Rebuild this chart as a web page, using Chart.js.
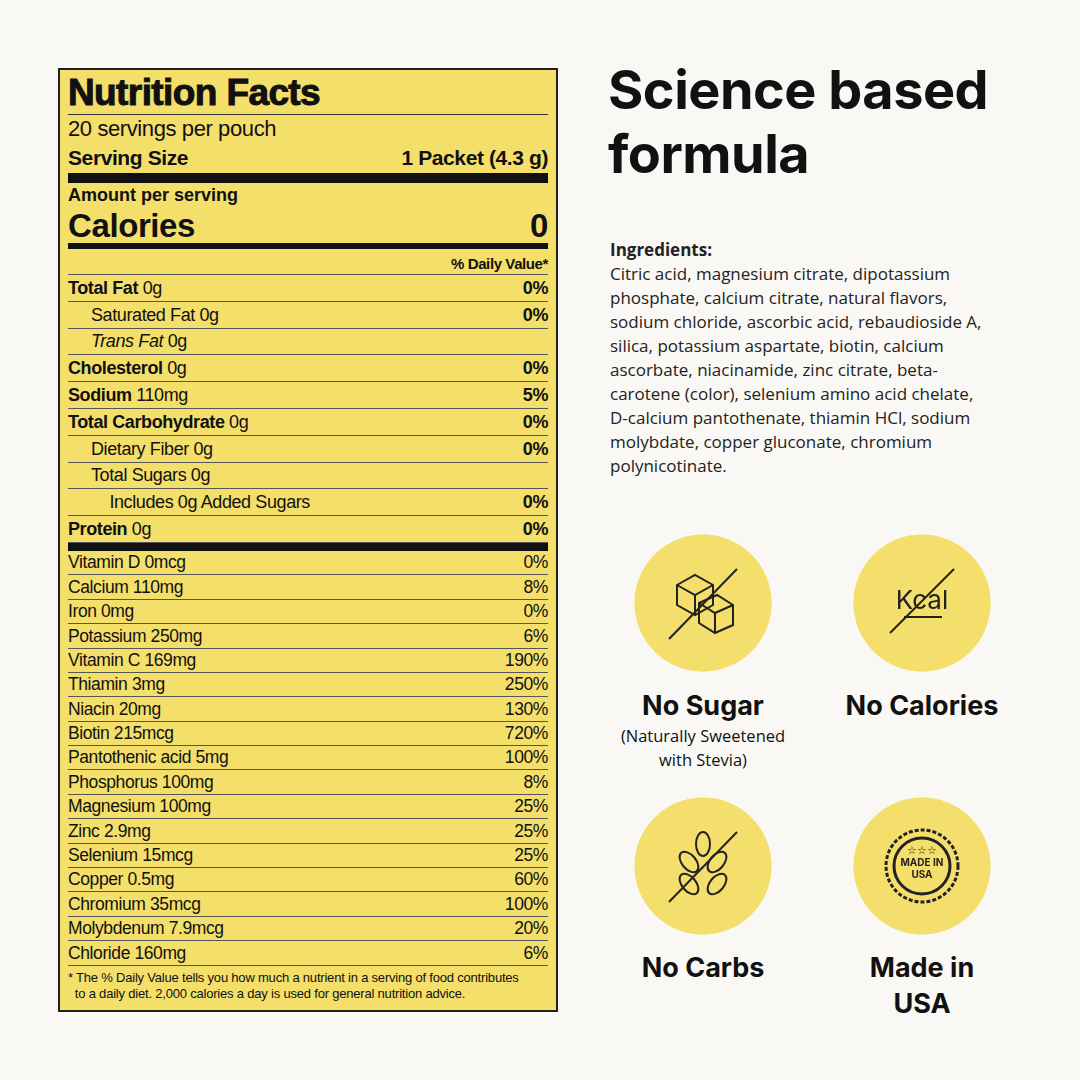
<!DOCTYPE html>
<html><head><meta charset="utf-8">
<script src="https://cdn.jsdelivr.net/npm/chart.js@4/dist/chart.umd.min.js"></script>
<style>
body{margin:0;width:1080px;height:1080px;background:#faf8f4;position:relative;overflow:hidden;font-family:'Liberation Sans Narrow','Liberation Sans',Arial,sans-serif;color:#111}
#label{position:absolute;left:58px;top:68px;width:500px;height:944px;background:#f4df6b;border:2px solid #222;box-sizing:border-box;padding:0 8px}
.r{display:flex;justify-content:space-between;align-items:flex-end;box-sizing:border-box;border-bottom:1px solid #555;letter-spacing:-0.4px}
.b{font-weight:bold}
.thick{background:#111}
#right{position:absolute;left:608px;top:58px;font-family:Inter,'Noto Sans',sans-serif}
h1{margin:0;font-size:54px;line-height:64px;font-weight:700;letter-spacing:-0.5px}
.ing{position:absolute;left:610px;top:238px;width:382px;font-family:'Open Sans','Noto Sans',sans-serif;font-size:17px;line-height:24px;color:#222}
.icon{position:absolute;width:140px;height:140px}
.cap{position:absolute;width:220px;text-align:center;font-family:Inter,'Noto Sans',sans-serif;font-weight:700;font-size:27px;color:#111}
.sub{font-weight:400;font-size:16.5px;line-height:24px;font-family:'Open Sans',sans-serif}
.sym{position:absolute;width:140px;height:140px;pointer-events:none}
</style></head><body>
<div id="label"></div>
<div id="right"><h1>Science based<br>formula</h1></div>
<div class="ing"><b>Ingredients:</b><br>Citric acid, magnesium citrate, dipotassium phosphate, calcium citrate, natural flavors, sodium chloride, ascorbic acid, rebaudioside A, silica, potassium aspartate, biotin, calcium ascorbate, niacinamide, zinc citrate, beta-carotene (color), selenium amino acid chelate, D-calcium pantothenate, thiamin HCl, sodium molybdate, copper gluconate, chromium polynicotinate.</div>
<script>
const mainNames=["<b>Total Fat</b> 0g","&nbsp;&nbsp;&nbsp;&nbsp;&nbsp;Saturated Fat 0g","&nbsp;&nbsp;&nbsp;&nbsp;&nbsp;<i>Trans Fat</i> 0g","<b>Cholesterol</b> 0g","<b>Sodium</b> 110mg","<b>Total Carbohydrate</b> 0g","&nbsp;&nbsp;&nbsp;&nbsp;&nbsp;Dietary Fiber 0g","&nbsp;&nbsp;&nbsp;&nbsp;&nbsp;Total Sugars 0g","&nbsp;&nbsp;&nbsp;&nbsp;&nbsp;&nbsp;&nbsp;&nbsp;&nbsp;Includes 0g Added Sugars","<b>Protein</b> 0g"];
const mainDV=["0%","0%","","0%","5%","0%","0%","","0%","0%"];
const vitNames=["Vitamin D 0mcg","Calcium 110mg","Iron 0mg","Potassium 250mg","Vitamin C 169mg","Thiamin 3mg","Niacin 20mg","Biotin 215mcg","Pantothenic acid 5mg","Phosphorus 100mg","Magnesium 100mg","Zinc 2.9mg","Selenium 15mcg","Copper 0.5mg","Chromium 35mcg","Molybdenum 7.9mcg","Chloride 160mg"];
const vitDV=["0%","8%","0%","6%","190%","250%","130%","720%","100%","8%","25%","25%","25%","60%","100%","20%","6%"];
const L=document.getElementById('label');
let h='';
h+=`<div class="r b" style="height:45px;font-size:37px;font-family:'Liberation Sans',Arial;font-weight:900;letter-spacing:-0.6px;border-color:#333;-webkit-text-stroke:1px #111">Nutrition Facts</div>`;
h+=`<div class="r" style="height:27px;font-size:22px;border:none">20 servings per pouch</div>`;
h+=`<div class="r b" style="height:28px;font-size:21px;border:none"><span>Serving Size</span><span>1 Packet (4.3 g)</span></div>`;
h+=`<div class="thick" style="height:10px;margin-top:3px"></div>`;
h+=`<div class="b" style="height:20px;font-size:18px;line-height:20px;padding-top:2px">Amount per serving</div>`;
h+=`<div class="r b" style="height:38px;font-size:33px;line-height:34px;border:none;font-family:'Liberation Sans',Arial"><span>Calories</span><span>0</span></div>`;
h+=`<div class="thick" style="height:6px"></div>`;
h+=`<div class="r b" style="height:26px;font-size:15px;justify-content:flex-end;padding-bottom:2px">% Daily Value*</div>`;
mainNames.forEach((n,i)=>h+=`<div class="r" style="height:26.8px;font-size:18px;padding-bottom:2px"><span>${n}</span><span class="b">${mainDV[i]}</span></div>`);
h+=`<div class="thick" style="height:8px"></div>`;
vitNames.forEach((n,i)=>h+=`<div class="r" style="height:24.4px;font-size:17.5px;padding-bottom:1px"><span>${n}</span><span>${vitDV[i]}</span></div>`);
h+=`<div style="font-size:13px;line-height:16px;padding-top:4px;letter-spacing:-0.2px">* The % Daily Value tells you how much a nutrient in a serving of food contributes<br>&nbsp;&nbsp;to a daily diet. 2,000 calories a day is used for general nutrition advice.</div>`;
L.innerHTML=h;

const iconLabels=["No Sugar","No Calories","No Carbs","Made in USA"];
const iconValues=[1,1,1,1];
const centers=[[703,603],[922,603],[703,866],[922,866]];
const syms=[
`<g fill="none" stroke="#222" stroke-width="2"><path d="M44 52l18-10 18 10v20l-18 10-18-10z"/><path d="M44 52l18 10 18-10M62 62v20"/><path d="M66 70l18-8 16 10v20l-18 8-16-10z"/><path d="M66 70l16 10 18-8M82 80v20"/><line x1="36" y1="106" x2="104" y2="36"/></g>`,
`<text x="70" y="76" text-anchor="middle" font-family="Inter" font-size="26" fill="#222">Kcal</text><line x1="38" y1="100" x2="102" y2="36" stroke="#222" stroke-width="2"/><line x1="52" y1="84" x2="90" y2="84" stroke="#222" stroke-width="2"/>`,
`<g fill="none" stroke="#222" stroke-width="2"><ellipse cx="70" cy="48" rx="7" ry="12"/><ellipse cx="56" cy="66" rx="7" ry="12" transform="rotate(-40 56 66)"/><ellipse cx="84" cy="66" rx="7" ry="12" transform="rotate(40 84 66)"/><ellipse cx="56" cy="88" rx="7" ry="12" transform="rotate(-40 56 88)"/><ellipse cx="84" cy="88" rx="7" ry="12" transform="rotate(40 84 88)"/><line x1="36" y1="106" x2="104" y2="36"/></g>`,
`<g fill="none" stroke="#222" stroke-width="3"><circle cx="70" cy="70" r="36" stroke-dasharray="4 2"/><circle cx="70" cy="70" r="28"/></g><text x="70" y="70" text-anchor="middle" font-family="Inter" font-weight="700" font-size="10" fill="#222">MADE IN</text><text x="70" y="82" text-anchor="middle" font-family="Inter" font-weight="700" font-size="10" fill="#222">USA</text><text x="70" y="58" text-anchor="middle" font-size="11" fill="#222">☆☆☆</text>`];
centers.forEach((c,i)=>{
  const d=document.createElement('div');d.className='icon';d.style.left=(c[0]-70)+'px';d.style.top=(c[1]-70)+'px';
  const cv=document.createElement('canvas');d.appendChild(cv);document.body.appendChild(d);
  new Chart(cv,{type:'pie',data:{labels:[iconLabels[i]],datasets:[{data:[iconValues[i]],backgroundColor:'#f5df6c',borderWidth:0}]},
    options:{responsive:false,animation:false,plugins:{legend:{display:false},tooltip:{enabled:false}},layout:{padding:3}}});
  cv.style.width='140px';cv.style.height='140px';
  const s=document.createElementNS('http://www.w3.org/2000/svg','svg');s.setAttribute('class','sym');s.setAttribute('viewBox','0 0 140 140');
  s.style.left=(c[0]-70)+'px';s.style.top=(c[1]-70)+'px';s.innerHTML=syms[i];document.body.appendChild(s);
});
const caps=[[703,688,'No Sugar<div class="sub">(Naturally Sweetened<br>with Stevia)</div>'],[922,688,'No Calories'],[703,950,'No Carbs'],[922,950,'Made in<br>USA']];
caps.forEach(c=>{const d=document.createElement('div');d.className='cap';d.style.left=(c[0]-110)+'px';d.style.top=c[1]+'px';d.style.lineHeight='36px';d.innerHTML=c[2];document.body.appendChild(d);});
</script>
</body></html>
